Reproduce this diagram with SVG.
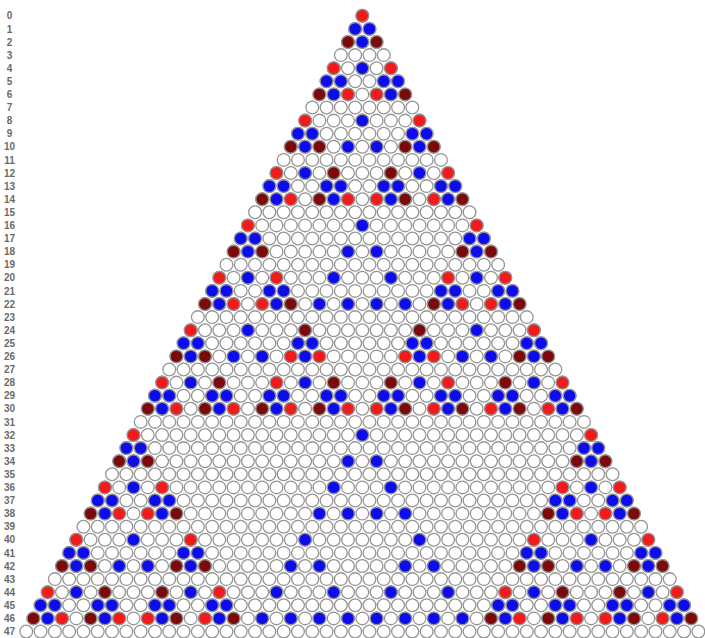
<svg xmlns="http://www.w3.org/2000/svg" xmlns:xlink="http://www.w3.org/1999/xlink" width="705" height="638" viewBox="0 0 705 638">
<style>
.g{stroke:#959595;stroke-width:1.958;stroke-linecap:round;stroke-dasharray:0 2;fill:none}
.w{stroke:#ffffff;stroke-width:1.6;stroke-linecap:round;stroke-dasharray:0 2;fill:none}
.c{stroke:#959595;stroke-width:0.18}
.lab text{font-family:"Liberation Sans",Arial,sans-serif;font-size:10px;font-weight:bold;fill:#6a6a6a;text-anchor:middle}
</style>
<defs>
<circle id="R" class="c" r="0.89" fill="#f21a1a"/>
<circle id="B" class="c" r="0.89" fill="#0c0cee"/>
<circle id="M" class="c" r="0.89" fill="#7d0a0a"/>
</defs>
<rect width="705" height="638" fill="#ffffff"/>
<g class="lab">
<text x="9.5" y="19.4">0</text><text x="9.5" y="32.5">1</text><text x="9.5" y="45.6">2</text><text x="9.5" y="58.7">3</text><text x="9.5" y="71.8">4</text><text x="9.5" y="84.9">5</text><text x="9.5" y="98">6</text><text x="9.5" y="111.1">7</text><text x="9.5" y="124.2">8</text><text x="9.5" y="137.3">9</text><text x="9.5" y="150.4">10</text><text x="9.5" y="163.5">11</text><text x="9.5" y="176.6">12</text><text x="9.5" y="189.7">13</text><text x="9.5" y="202.8">14</text><text x="9.5" y="215.9">15</text><text x="9.5" y="229">16</text><text x="9.5" y="242.1">17</text><text x="9.5" y="255.2">18</text><text x="9.5" y="268.3">19</text><text x="9.5" y="281.4">20</text><text x="9.5" y="294.5">21</text><text x="9.5" y="307.6">22</text><text x="9.5" y="320.7">23</text><text x="9.5" y="333.8">24</text><text x="9.5" y="346.9">25</text><text x="9.5" y="360">26</text><text x="9.5" y="373.1">27</text><text x="9.5" y="386.2">28</text><text x="9.5" y="399.3">29</text><text x="9.5" y="412.4">30</text><text x="9.5" y="425.5">31</text><text x="9.5" y="438.6">32</text><text x="9.5" y="451.7">33</text><text x="9.5" y="464.8">34</text><text x="9.5" y="477.9">35</text><text x="9.5" y="491">36</text><text x="9.5" y="504.1">37</text><text x="9.5" y="517.2">38</text><text x="9.5" y="530.3">39</text><text x="9.5" y="543.4">40</text><text x="9.5" y="556.5">41</text><text x="9.5" y="569.6">42</text><text x="9.5" y="582.7">43</text><text x="9.5" y="595.8">44</text><text x="9.5" y="608.9">45</text><text x="9.5" y="622">46</text><text x="9.5" y="635.1">47</text>
</g>
<g id="triangle">
<g id="row0" transform="translate(362.3,15.8) scale(7.15)"><line class="g" x1="0" x2="0.01"/><line class="w" x1="0" x2="0.01"/><use href="#R" x="0"/></g>
<g id="row1" transform="translate(362.3,28.9) scale(7.15)"><line class="g" x1="-1" x2="1.01"/><line class="w" x1="-1" x2="1.01"/><use href="#B" x="-1"/><use href="#B" x="1"/></g>
<g id="row2" transform="translate(362.3,42) scale(7.15)"><line class="g" x1="-2" x2="2.01"/><line class="w" x1="-2" x2="2.01"/><use href="#M" x="-2"/><use href="#B" x="0"/><use href="#M" x="2"/></g>
<g id="row3" transform="translate(362.3,55.1) scale(7.15)"><line class="g" x1="-3" x2="3.01"/><line class="w" x1="-3" x2="3.01"/></g>
<g id="row4" transform="translate(362.3,68.2) scale(7.15)"><line class="g" x1="-4" x2="4.01"/><line class="w" x1="-4" x2="4.01"/><use href="#R" x="-4"/><use href="#B" x="0"/><use href="#R" x="4"/></g>
<g id="row5" transform="translate(362.3,81.3) scale(7.15)"><line class="g" x1="-5" x2="5.01"/><line class="w" x1="-5" x2="5.01"/><use href="#B" x="-5"/><use href="#B" x="-3"/><use href="#B" x="3"/><use href="#B" x="5"/></g>
<g id="row6" transform="translate(362.3,94.4) scale(7.15)"><line class="g" x1="-6" x2="6.01"/><line class="w" x1="-6" x2="6.01"/><use href="#M" x="-6"/><use href="#B" x="-4"/><use href="#R" x="-2"/><use href="#R" x="2"/><use href="#B" x="4"/><use href="#M" x="6"/></g>
<g id="row7" transform="translate(362.3,107.5) scale(7.15)"><line class="g" x1="-7" x2="7.01"/><line class="w" x1="-7" x2="7.01"/></g>
<g id="row8" transform="translate(362.3,120.6) scale(7.15)"><line class="g" x1="-8" x2="8.01"/><line class="w" x1="-8" x2="8.01"/><use href="#R" x="-8"/><use href="#B" x="0"/><use href="#R" x="8"/></g>
<g id="row9" transform="translate(362.3,133.7) scale(7.15)"><line class="g" x1="-9" x2="9.01"/><line class="w" x1="-9" x2="9.01"/><use href="#B" x="-9"/><use href="#B" x="-7"/><use href="#B" x="7"/><use href="#B" x="9"/></g>
<g id="row10" transform="translate(362.3,146.8) scale(7.15)"><line class="g" x1="-10" x2="10.01"/><line class="w" x1="-10" x2="10.01"/><use href="#M" x="-10"/><use href="#B" x="-8"/><use href="#M" x="-6"/><use href="#B" x="-2"/><use href="#B" x="2"/><use href="#M" x="6"/><use href="#B" x="8"/><use href="#M" x="10"/></g>
<g id="row11" transform="translate(362.3,159.9) scale(7.15)"><line class="g" x1="-11" x2="11.01"/><line class="w" x1="-11" x2="11.01"/></g>
<g id="row12" transform="translate(362.3,173) scale(7.15)"><line class="g" x1="-12" x2="12.01"/><line class="w" x1="-12" x2="12.01"/><use href="#R" x="-12"/><use href="#B" x="-8"/><use href="#M" x="-4"/><use href="#M" x="4"/><use href="#B" x="8"/><use href="#R" x="12"/></g>
<g id="row13" transform="translate(362.3,186.1) scale(7.15)"><line class="g" x1="-13" x2="13.01"/><line class="w" x1="-13" x2="13.01"/><use href="#B" x="-13"/><use href="#B" x="-11"/><use href="#B" x="-5"/><use href="#B" x="-3"/><use href="#B" x="3"/><use href="#B" x="5"/><use href="#B" x="11"/><use href="#B" x="13"/></g>
<g id="row14" transform="translate(362.3,199.2) scale(7.15)"><line class="g" x1="-14" x2="14.01"/><line class="w" x1="-14" x2="14.01"/><use href="#M" x="-14"/><use href="#B" x="-12"/><use href="#R" x="-10"/><use href="#M" x="-6"/><use href="#B" x="-4"/><use href="#R" x="-2"/><use href="#R" x="2"/><use href="#B" x="4"/><use href="#M" x="6"/><use href="#R" x="10"/><use href="#B" x="12"/><use href="#M" x="14"/></g>
<g id="row15" transform="translate(362.3,212.3) scale(7.15)"><line class="g" x1="-15" x2="15.01"/><line class="w" x1="-15" x2="15.01"/></g>
<g id="row16" transform="translate(362.3,225.4) scale(7.15)"><line class="g" x1="-16" x2="16.01"/><line class="w" x1="-16" x2="16.01"/><use href="#R" x="-16"/><use href="#B" x="0"/><use href="#R" x="16"/></g>
<g id="row17" transform="translate(362.3,238.5) scale(7.15)"><line class="g" x1="-17" x2="17.01"/><line class="w" x1="-17" x2="17.01"/><use href="#B" x="-17"/><use href="#B" x="-15"/><use href="#B" x="15"/><use href="#B" x="17"/></g>
<g id="row18" transform="translate(362.3,251.6) scale(7.15)"><line class="g" x1="-18" x2="18.01"/><line class="w" x1="-18" x2="18.01"/><use href="#M" x="-18"/><use href="#B" x="-16"/><use href="#M" x="-14"/><use href="#B" x="-2"/><use href="#B" x="2"/><use href="#M" x="14"/><use href="#B" x="16"/><use href="#M" x="18"/></g>
<g id="row19" transform="translate(362.3,264.7) scale(7.15)"><line class="g" x1="-19" x2="19.01"/><line class="w" x1="-19" x2="19.01"/></g>
<g id="row20" transform="translate(362.3,277.8) scale(7.15)"><line class="g" x1="-20" x2="20.01"/><line class="w" x1="-20" x2="20.01"/><use href="#R" x="-20"/><use href="#B" x="-16"/><use href="#R" x="-12"/><use href="#B" x="-4"/><use href="#B" x="4"/><use href="#R" x="12"/><use href="#B" x="16"/><use href="#R" x="20"/></g>
<g id="row21" transform="translate(362.3,290.9) scale(7.15)"><line class="g" x1="-21" x2="21.01"/><line class="w" x1="-21" x2="21.01"/><use href="#B" x="-21"/><use href="#B" x="-19"/><use href="#B" x="-13"/><use href="#B" x="-11"/><use href="#B" x="11"/><use href="#B" x="13"/><use href="#B" x="19"/><use href="#B" x="21"/></g>
<g id="row22" transform="translate(362.3,304) scale(7.15)"><line class="g" x1="-22" x2="22.01"/><line class="w" x1="-22" x2="22.01"/><use href="#M" x="-22"/><use href="#B" x="-20"/><use href="#R" x="-18"/><use href="#R" x="-14"/><use href="#B" x="-12"/><use href="#M" x="-10"/><use href="#B" x="-6"/><use href="#B" x="-2"/><use href="#B" x="2"/><use href="#B" x="6"/><use href="#M" x="10"/><use href="#B" x="12"/><use href="#R" x="14"/><use href="#R" x="18"/><use href="#B" x="20"/><use href="#M" x="22"/></g>
<g id="row23" transform="translate(362.3,317.1) scale(7.15)"><line class="g" x1="-23" x2="23.01"/><line class="w" x1="-23" x2="23.01"/></g>
<g id="row24" transform="translate(362.3,330.2) scale(7.15)"><line class="g" x1="-24" x2="24.01"/><line class="w" x1="-24" x2="24.01"/><use href="#R" x="-24"/><use href="#B" x="-16"/><use href="#M" x="-8"/><use href="#M" x="8"/><use href="#B" x="16"/><use href="#R" x="24"/></g>
<g id="row25" transform="translate(362.3,343.3) scale(7.15)"><line class="g" x1="-25" x2="25.01"/><line class="w" x1="-25" x2="25.01"/><use href="#B" x="-25"/><use href="#B" x="-23"/><use href="#B" x="-9"/><use href="#B" x="-7"/><use href="#B" x="7"/><use href="#B" x="9"/><use href="#B" x="23"/><use href="#B" x="25"/></g>
<g id="row26" transform="translate(362.3,356.4) scale(7.15)"><line class="g" x1="-26" x2="26.01"/><line class="w" x1="-26" x2="26.01"/><use href="#M" x="-26"/><use href="#B" x="-24"/><use href="#M" x="-22"/><use href="#B" x="-18"/><use href="#B" x="-14"/><use href="#R" x="-10"/><use href="#B" x="-8"/><use href="#R" x="-6"/><use href="#R" x="6"/><use href="#B" x="8"/><use href="#R" x="10"/><use href="#B" x="14"/><use href="#B" x="18"/><use href="#M" x="22"/><use href="#B" x="24"/><use href="#M" x="26"/></g>
<g id="row27" transform="translate(362.3,369.5) scale(7.15)"><line class="g" x1="-27" x2="27.01"/><line class="w" x1="-27" x2="27.01"/></g>
<g id="row28" transform="translate(362.3,382.6) scale(7.15)"><line class="g" x1="-28" x2="28.01"/><line class="w" x1="-28" x2="28.01"/><use href="#R" x="-28"/><use href="#B" x="-24"/><use href="#M" x="-20"/><use href="#R" x="-12"/><use href="#B" x="-8"/><use href="#M" x="-4"/><use href="#M" x="4"/><use href="#B" x="8"/><use href="#R" x="12"/><use href="#M" x="20"/><use href="#B" x="24"/><use href="#R" x="28"/></g>
<g id="row29" transform="translate(362.3,395.7) scale(7.15)"><line class="g" x1="-29" x2="29.01"/><line class="w" x1="-29" x2="29.01"/><use href="#B" x="-29"/><use href="#B" x="-27"/><use href="#B" x="-21"/><use href="#B" x="-19"/><use href="#B" x="-13"/><use href="#B" x="-11"/><use href="#B" x="-5"/><use href="#B" x="-3"/><use href="#B" x="3"/><use href="#B" x="5"/><use href="#B" x="11"/><use href="#B" x="13"/><use href="#B" x="19"/><use href="#B" x="21"/><use href="#B" x="27"/><use href="#B" x="29"/></g>
<g id="row30" transform="translate(362.3,408.8) scale(7.15)"><line class="g" x1="-30" x2="30.01"/><line class="w" x1="-30" x2="30.01"/><use href="#M" x="-30"/><use href="#B" x="-28"/><use href="#R" x="-26"/><use href="#M" x="-22"/><use href="#B" x="-20"/><use href="#R" x="-18"/><use href="#M" x="-14"/><use href="#B" x="-12"/><use href="#R" x="-10"/><use href="#M" x="-6"/><use href="#B" x="-4"/><use href="#R" x="-2"/><use href="#R" x="2"/><use href="#B" x="4"/><use href="#M" x="6"/><use href="#R" x="10"/><use href="#B" x="12"/><use href="#M" x="14"/><use href="#R" x="18"/><use href="#B" x="20"/><use href="#M" x="22"/><use href="#R" x="26"/><use href="#B" x="28"/><use href="#M" x="30"/></g>
<g id="row31" transform="translate(362.3,421.9) scale(7.15)"><line class="g" x1="-31" x2="31.01"/><line class="w" x1="-31" x2="31.01"/></g>
<g id="row32" transform="translate(362.3,435) scale(7.15)"><line class="g" x1="-32" x2="32.01"/><line class="w" x1="-32" x2="32.01"/><use href="#R" x="-32"/><use href="#B" x="0"/><use href="#R" x="32"/></g>
<g id="row33" transform="translate(362.3,448.1) scale(7.15)"><line class="g" x1="-33" x2="33.01"/><line class="w" x1="-33" x2="33.01"/><use href="#B" x="-33"/><use href="#B" x="-31"/><use href="#B" x="31"/><use href="#B" x="33"/></g>
<g id="row34" transform="translate(362.3,461.2) scale(7.15)"><line class="g" x1="-34" x2="34.01"/><line class="w" x1="-34" x2="34.01"/><use href="#M" x="-34"/><use href="#B" x="-32"/><use href="#M" x="-30"/><use href="#B" x="-2"/><use href="#B" x="2"/><use href="#M" x="30"/><use href="#B" x="32"/><use href="#M" x="34"/></g>
<g id="row35" transform="translate(362.3,474.3) scale(7.15)"><line class="g" x1="-35" x2="35.01"/><line class="w" x1="-35" x2="35.01"/></g>
<g id="row36" transform="translate(362.3,487.4) scale(7.15)"><line class="g" x1="-36" x2="36.01"/><line class="w" x1="-36" x2="36.01"/><use href="#R" x="-36"/><use href="#B" x="-32"/><use href="#R" x="-28"/><use href="#B" x="-4"/><use href="#B" x="4"/><use href="#R" x="28"/><use href="#B" x="32"/><use href="#R" x="36"/></g>
<g id="row37" transform="translate(362.3,500.5) scale(7.15)"><line class="g" x1="-37" x2="37.01"/><line class="w" x1="-37" x2="37.01"/><use href="#B" x="-37"/><use href="#B" x="-35"/><use href="#B" x="-29"/><use href="#B" x="-27"/><use href="#B" x="27"/><use href="#B" x="29"/><use href="#B" x="35"/><use href="#B" x="37"/></g>
<g id="row38" transform="translate(362.3,513.6) scale(7.15)"><line class="g" x1="-38" x2="38.01"/><line class="w" x1="-38" x2="38.01"/><use href="#M" x="-38"/><use href="#B" x="-36"/><use href="#R" x="-34"/><use href="#R" x="-30"/><use href="#B" x="-28"/><use href="#M" x="-26"/><use href="#B" x="-6"/><use href="#B" x="-2"/><use href="#B" x="2"/><use href="#B" x="6"/><use href="#M" x="26"/><use href="#B" x="28"/><use href="#R" x="30"/><use href="#R" x="34"/><use href="#B" x="36"/><use href="#M" x="38"/></g>
<g id="row39" transform="translate(362.3,526.7) scale(7.15)"><line class="g" x1="-39" x2="39.01"/><line class="w" x1="-39" x2="39.01"/></g>
<g id="row40" transform="translate(362.3,539.8) scale(7.15)"><line class="g" x1="-40" x2="40.01"/><line class="w" x1="-40" x2="40.01"/><use href="#R" x="-40"/><use href="#B" x="-32"/><use href="#R" x="-24"/><use href="#B" x="-8"/><use href="#B" x="8"/><use href="#R" x="24"/><use href="#B" x="32"/><use href="#R" x="40"/></g>
<g id="row41" transform="translate(362.3,552.9) scale(7.15)"><line class="g" x1="-41" x2="41.01"/><line class="w" x1="-41" x2="41.01"/><use href="#B" x="-41"/><use href="#B" x="-39"/><use href="#B" x="-25"/><use href="#B" x="-23"/><use href="#B" x="23"/><use href="#B" x="25"/><use href="#B" x="39"/><use href="#B" x="41"/></g>
<g id="row42" transform="translate(362.3,566) scale(7.15)"><line class="g" x1="-42" x2="42.01"/><line class="w" x1="-42" x2="42.01"/><use href="#M" x="-42"/><use href="#B" x="-40"/><use href="#M" x="-38"/><use href="#B" x="-34"/><use href="#B" x="-30"/><use href="#M" x="-26"/><use href="#B" x="-24"/><use href="#M" x="-22"/><use href="#B" x="-10"/><use href="#B" x="-6"/><use href="#B" x="6"/><use href="#B" x="10"/><use href="#M" x="22"/><use href="#B" x="24"/><use href="#M" x="26"/><use href="#B" x="30"/><use href="#B" x="34"/><use href="#M" x="38"/><use href="#B" x="40"/><use href="#M" x="42"/></g>
<g id="row43" transform="translate(362.3,579.1) scale(7.15)"><line class="g" x1="-43" x2="43.01"/><line class="w" x1="-43" x2="43.01"/></g>
<g id="row44" transform="translate(362.3,592.2) scale(7.15)"><line class="g" x1="-44" x2="44.01"/><line class="w" x1="-44" x2="44.01"/><use href="#R" x="-44"/><use href="#B" x="-40"/><use href="#M" x="-36"/><use href="#M" x="-28"/><use href="#B" x="-24"/><use href="#R" x="-20"/><use href="#B" x="-12"/><use href="#B" x="-4"/><use href="#B" x="4"/><use href="#B" x="12"/><use href="#R" x="20"/><use href="#B" x="24"/><use href="#M" x="28"/><use href="#M" x="36"/><use href="#B" x="40"/><use href="#R" x="44"/></g>
<g id="row45" transform="translate(362.3,605.3) scale(7.15)"><line class="g" x1="-45" x2="45.01"/><line class="w" x1="-45" x2="45.01"/><use href="#B" x="-45"/><use href="#B" x="-43"/><use href="#B" x="-37"/><use href="#B" x="-35"/><use href="#B" x="-29"/><use href="#B" x="-27"/><use href="#B" x="-21"/><use href="#B" x="-19"/><use href="#B" x="19"/><use href="#B" x="21"/><use href="#B" x="27"/><use href="#B" x="29"/><use href="#B" x="35"/><use href="#B" x="37"/><use href="#B" x="43"/><use href="#B" x="45"/></g>
<g id="row46" transform="translate(362.3,618.4) scale(7.15)"><line class="g" x1="-46" x2="46.01"/><line class="w" x1="-46" x2="46.01"/><use href="#M" x="-46"/><use href="#B" x="-44"/><use href="#R" x="-42"/><use href="#M" x="-38"/><use href="#B" x="-36"/><use href="#R" x="-34"/><use href="#R" x="-30"/><use href="#B" x="-28"/><use href="#M" x="-26"/><use href="#R" x="-22"/><use href="#B" x="-20"/><use href="#M" x="-18"/><use href="#B" x="-14"/><use href="#B" x="-10"/><use href="#B" x="-6"/><use href="#B" x="-2"/><use href="#B" x="2"/><use href="#B" x="6"/><use href="#B" x="10"/><use href="#B" x="14"/><use href="#M" x="18"/><use href="#B" x="20"/><use href="#R" x="22"/><use href="#M" x="26"/><use href="#B" x="28"/><use href="#R" x="30"/><use href="#R" x="34"/><use href="#B" x="36"/><use href="#M" x="38"/><use href="#R" x="42"/><use href="#B" x="44"/><use href="#M" x="46"/></g>
<g id="row47" transform="translate(362.3,631.5) scale(7.15)"><line class="g" x1="-47" x2="47.01"/><line class="w" x1="-47" x2="47.01"/></g>
</g>
</svg>
